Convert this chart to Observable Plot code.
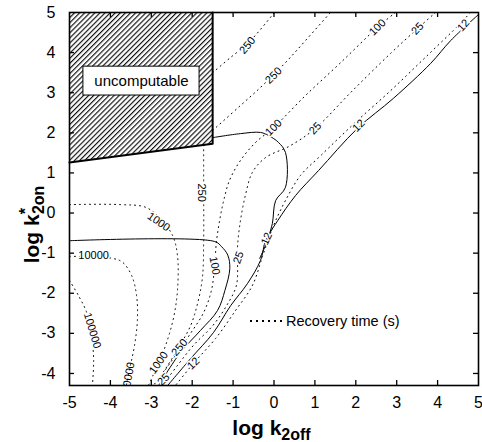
<!DOCTYPE html>
<html>
<head>
<meta charset="utf-8">
<script src="https://cdn.jsdelivr.net/npm/d3@7"></script>
<script src="https://cdn.jsdelivr.net/npm/@observablehq/plot@0.6"></script>
<style>
  html, body { margin: 0; padding: 0; background: #fff; }
  #chart svg { display: block; }
</style>
</head>
<body>
<div id="chart"></div>
<script>
// Axis ticks (log10 units)
const xTicks = [-5, -4, -3, -2, -1, 0, 1, 2, 3, 4, 5];
const yTicks = [-4, -3, -2, -1, 0, 1, 2, 3, 4, 5];
const xDomain = [-5, 5];
const yDomain = [-4.3, 5];

// Recovery-time contours (s), points are [log k2off, log k*2on]
const recovery12 = [[4.80,5],[4.56,4.73],[3.70,3.88],[2.85,3.05],[1.99,2.26],[1.14,1.43],[0.65,0.94],[0.28,0.31],[0.04,-0.19],[-0.13,-0.64],[-0.28,-1.08],[-0.53,-1.81],[-0.94,-2.43],[-1.43,-3.13],[-1.97,-3.75],[-2.41,-4.30]];
const recovery25 = [[3.95,5],[3.51,4.60],[2.85,3.98],[1.87,3.00],[1.01,2.11],[0.40,1.68],[-0.21,1.38],[-0.53,1.01],[-0.70,0.44],[-0.82,-0.19],[-0.89,-0.81],[-0.89,-1.23],[-0.92,-1.81],[-1.16,-2.31],[-1.50,-2.81],[-1.97,-3.30],[-2.36,-3.80],[-2.73,-4.30]];
const recovery100 = [[2.97,5],[2.53,4.63],[1.63,3.75],[0.77,2.93],[-0.01,2.13],[-0.45,1.76],[-0.82,1.31],[-1.09,0.81],[-1.23,0.31],[-1.33,-0.19],[-1.41,-0.74],[-1.45,-1.31],[-1.53,-1.93],[-1.72,-2.48],[-2.04,-3.00],[-2.41,-3.55],[-2.70,-3.98],[-2.87,-4.30]];
const recovery250a = [[-1.72,1.70],[-1.72,1.06],[-1.72,0.49],[-1.72,-0.69],[-1.75,-1.61],[-1.87,-2.26],[-2.04,-2.81],[-2.33,-3.35],[-2.65,-3.88],[-2.95,-4.30]];
const recovery250b = [[-1.5,3.50],[-1.06,3.88],[-0.62,4.25],[0.01,5]];
const recovery250c = [[-1.5,2.06],[-0.82,2.68],[-0.28,3.18],[0.28,3.75],[0.77,4.30],[1.38,5]];
const recovery1000 = [[-5,0.21],[-3.75,0.21],[-3.13,0.14],[-2.78,-0.14],[-2.48,-0.56],[-2.36,-1.06],[-2.36,-1.93],[-2.46,-2.63],[-2.65,-3.30],[-2.85,-3.80],[-3.07,-4.30]];
const recovery10000 = [[-5,-1.08],[-3.95,-1.13],[-3.70,-1.23],[-3.48,-1.56],[-3.36,-2.06],[-3.34,-2.68],[-3.41,-3.30],[-3.51,-3.80],[-3.61,-4.30]];
const recovery100000 = [[-5,-1.68],[-4.78,-2.06],[-4.58,-2.48],[-4.46,-3.05],[-4.41,-3.68],[-4.44,-4.30]];
const recoveryContours = [recovery12, recovery25, recovery100, recovery250a, recovery250b, recovery250c, recovery1000, recovery10000, recovery100000];

// Solid boundary curves
const boundaryUpper = [[-1.5,1.88],[-0.82,1.98],[-0.33,2.01],[-0.13,1.93],[0.11,1.76],[0.28,1.51],[0.28,0.64],[0.04,0.31],[-0.04,-0.26],[-0.13,-0.56],[-0.21,-0.69],[-0.33,-1.18],[-0.65,-1.76],[-1.06,-2.31],[-1.48,-2.98],[-2.04,-3.63],[-2.60,-4.30]];
const boundaryLower = [[-5,-0.69],[-1.45,-0.71],[-1.28,-0.84],[-1.13,-1.05],[-1.08,-1.38],[-1.20,-1.93],[-1.38,-2.43],[-1.80,-2.93],[-2.29,-3.48],[-2.82,-4.30]];
const boundaryDiagonal = [[5,4.95],[4.32,4.30],[3.83,3.73],[2.92,2.86],[2.04,2.11],[1.09,1.06],[0.53,0.44],[0.09,-0.19],[-0.13,-0.56],[-0.18,-0.74],[-0.35,-1.13]];

// Uncomputable region: lower edge, closed by the top of the domain
const uncomputableEdge = [[-5,1.26],[-1.5,1.73]];
const uncomputableNote = [{label: "uncomputable", x: -3.24, y: 3.29, x1: -4.66, x2: -1.82, y1: 2.93, y2: 3.65}];

// Contour labels along the recovery-time lines
const contourLabels = [
  {text: "250", x: -0.65, y: 4.18, angle: -50},
  {text: "250", x: -0.01, y: 3.43, angle: -45},
  {text: "100", x: 2.53, y: 4.63, angle: -45},
  {text: "25", x: 3.51, y: 4.60, angle: -48},
  {text: "12", x: 4.63, y: 4.68, angle: -48},
  {text: "100", x: -0.01, y: 2.13, angle: -45},
  {text: "25", x: 1.01, y: 2.11, angle: -48},
  {text: "12", x: 2.07, y: 2.18, angle: -45},
  {text: "250", x: -1.77, y: 0.51, angle: 90},
  {text: "1000", x: -2.82, y: -0.22, angle: 35},
  {text: "10000", x: -4.41, y: -1.07, angle: 0},
  {text: "100", x: -1.45, y: -1.31, angle: 80},
  {text: "25", x: -0.87, y: -1.11, angle: -70},
  {text: "12", x: -0.18, y: -0.64, angle: -65},
  {text: "100000", x: -4.44, y: -2.93, angle: 73},
  {text: "1000", x: -2.82, y: -3.73, angle: -55},
  {text: "250", x: -2.31, y: -3.35, angle: -50},
  {text: "25", x: -2.70, y: -4.15, angle: -45},
  {text: "12", x: -1.97, y: -3.75, angle: -45}
];
const edgeLabels = [{text: "10000", x: -3.56, y: -4.10, angle: -80}];

const W = 482, H = 442;
const mL = 69, mR = 4, mT = 12, mB = 57;
const innerW = W - mL - mR, innerH = H - mT - mB;
const tickLen = 5;
const font = "'Liberation Sans', Arial, Helvetica, sans-serif";
const dotted = {stroke: "#000", strokeWidth: 1, strokeDasharray: "1 4", curve: "catmull-rom"};
const solid = {stroke: "#000", strokeWidth: 1, curve: "catmull-rom"};
const innerX = xTicks.slice(1, -1);
const innerY = yTicks.slice(0, -1);

const chart = Plot.plot({
  width: W, height: H,
  marginLeft: mL, marginRight: mR, marginTop: mT, marginBottom: mB,
  style: {fontFamily: font, background: "#fff", color: "#000"},
  x: {domain: xDomain},
  y: {domain: yDomain},
  marks: [
    Plot.areaY(uncomputableEdge, {x: d => d[0], y1: d => d[1], y2: yDomain[1], fill: "url(#hatch)"}),
    Plot.line([...uncomputableEdge, [uncomputableEdge[1][0], yDomain[1]]], {stroke: "#000", strokeWidth: 2}),
    ...recoveryContours.map(c => Plot.line(c, dotted)),
    Plot.line(boundaryUpper, solid),
    Plot.line(boundaryLower, solid),
    Plot.line(boundaryDiagonal, solid),
    Plot.text(contourLabels, {x: "x", y: "y", text: "text", rotate: "angle", fontSize: 11, fill: "#000", stroke: "#fff", strokeWidth: 3}),
    Plot.text(edgeLabels, {x: "x", y: "y", text: "text", rotate: "angle", fontSize: 11, fill: "#000", clip: true}),
    Plot.rect(uncomputableNote, {x1: "x1", x2: "x2", y1: "y1", y2: "y2", fill: "#fff", stroke: "#000", strokeWidth: 1}),
    Plot.text(uncomputableNote, {x: "x", y: "y", text: "label", fontSize: 15, fill: "#000"}),
    Plot.frame({stroke: "#000", strokeWidth: 1.6}),
    // inward ticks on all four sides
    Plot.ruleX(innerX, {x: d => d, insetTop: innerH - tickLen, stroke: "#000", strokeWidth: 1.3}),
    Plot.ruleX(innerX, {x: d => d, insetBottom: innerH - tickLen, stroke: "#000", strokeWidth: 1.3}),
    Plot.ruleY(innerY, {y: d => d, insetRight: innerW - tickLen, stroke: "#000", strokeWidth: 1.3}),
    Plot.ruleY(innerY, {y: d => d, insetLeft: innerW - tickLen, stroke: "#000", strokeWidth: 1.3}),
    Plot.axisX({ticks: xTicks, tickSize: 0, tickPadding: 11, tickFormat: d => String(d), fontSize: 16, label: null}),
    Plot.axisY({ticks: yTicks, tickSize: 0, tickPadding: 14, tickFormat: d => String(d), fontSize: 16, label: null})
  ]
});

const svg = d3.select(chart);

// diagonal hatching for the uncomputable region
const pat = svg.insert("defs", ":first-child").append("pattern")
  .attr("id", "hatch").attr("patternUnits", "userSpaceOnUse")
  .attr("width", 3.6).attr("height", 3.6).attr("patternTransform", "rotate(45)");
pat.append("rect").attr("width", 3.6).attr("height", 3.6).attr("fill", "#fff");
pat.append("line").attr("x1", 0.6).attr("y1", 0).attr("x2", 0.6).attr("y2", 3.6)
  .attr("stroke", "#000").attr("stroke-width", 1.1);

// axis titles with sub/superscripts
const xTitle = svg.append("text")
  .attr("x", mL + innerW / 2 - 2).attr("y", 435)
  .attr("text-anchor", "middle").attr("font-family", font)
  .attr("font-weight", "bold").attr("font-size", 21).attr("fill", "#000");
xTitle.append("tspan").text("log k");
xTitle.append("tspan").attr("font-size", 16).attr("dy", 5).text("2off");

const yTitle = svg.append("text")
  .attr("transform", `translate(39,${mT + innerH / 2 + 26}) rotate(-90)`)
  .attr("text-anchor", "middle").attr("font-family", font)
  .attr("font-weight", "bold").attr("font-size", 21).attr("fill", "#000");
yTitle.append("tspan").text("log k");
yTitle.append("tspan").attr("font-size", 16).attr("dy", -8).text("*");
yTitle.append("tspan").attr("font-size", 16).attr("dx", -6).attr("dy", 13).text("2on");

// legend for the dotted contours
const legend = svg.append("g").attr("transform", "translate(250,321)").attr("text-anchor", "start");
legend.append("line").attr("x1", 0).attr("x2", 32).attr("y1", 0).attr("y2", 0)
  .attr("stroke", "#000").attr("stroke-width", 2).attr("stroke-dasharray", "2 4");
legend.append("text").attr("x", 36).attr("y", 5).attr("font-family", font)
  .attr("font-size", 14.5).attr("fill", "#000").text("Recovery time (s)");

document.getElementById("chart").appendChild(chart);
</script>
</body>
</html>
